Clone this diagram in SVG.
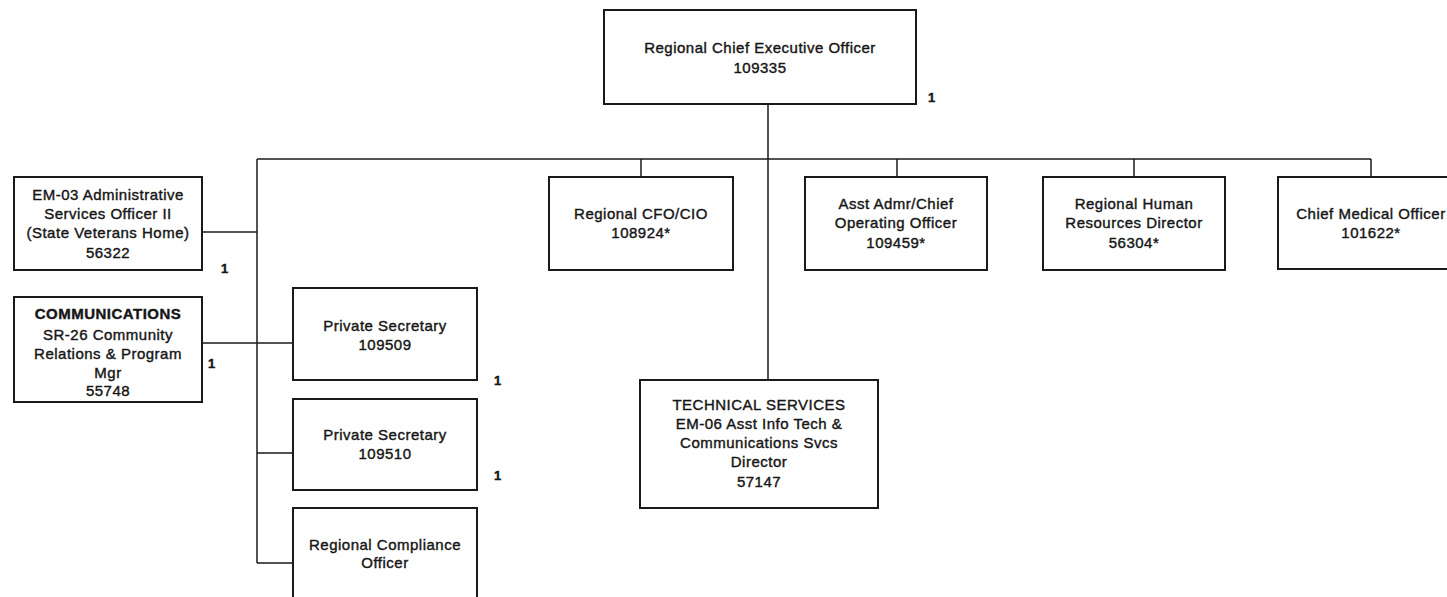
<svg xmlns="http://www.w3.org/2000/svg" width="1447" height="597" viewBox="0 0 1447 597">
<style>
.box{fill:#fff;stroke:#1a1a1a;stroke-width:2}
.con{fill:none;stroke:#1a1a1a;stroke-width:1.5}
text{font-family:"Liberation Sans",Arial,sans-serif;font-size:15px;letter-spacing:0.5px;fill:#161616;text-anchor:middle;stroke:#161616;stroke-width:0.4}
.b{font-weight:bold}
.n{font-size:13px;font-weight:bold;text-anchor:start}
</style>
<rect width="1447" height="597" fill="#fff"/>
<g id="connectors">
<path class="con" d="M768 104V380"/>
<path class="con" d="M257 159H1371"/>
<path class="con" d="M257 159V563"/>
<path class="con" d="M641 159V177M897 159V177M1134 159V177M1371 159V177"/>
<path class="con" d="M202 232H257"/>
<path class="con" d="M202 343H293"/>
<path class="con" d="M257 453H293M257 563H293"/>
</g>
<g id="ceo">
<rect class="box" x="604" y="10" width="312" height="94"/>
<text x="760" y="53">Regional Chief Executive Officer</text>
<text x="760" y="73">109335</text>
</g>
<g id="cfo">
<rect class="box" x="549" y="177" width="184" height="93"/>
<text x="641" y="219">Regional CFO/CIO</text>
<text x="641" y="238">108924*</text>
</g>
<g id="coo">
<rect class="box" x="805" y="177" width="182" height="93"/>
<text x="896" y="209">Asst Admr/Chief</text>
<text x="896" y="228">Operating Officer</text>
<text x="896" y="248">109459*</text>
</g>
<g id="hr">
<rect class="box" x="1043" y="177" width="182" height="93"/>
<text x="1134" y="209">Regional Human</text>
<text x="1134" y="228">Resources Director</text>
<text x="1134" y="248">56304*</text>
</g>
<g id="cmo">
<rect class="box" x="1278" y="177" width="186" height="92"/>
<text x="1371" y="219">Chief Medical Officer</text>
<text x="1371" y="238">101622*</text>
</g>
<g id="admin">
<rect class="box" x="14" y="177" width="188" height="93"/>
<text x="108" y="200">EM-03 Administrative</text>
<text x="108" y="219">Services Officer II</text>
<text x="108" y="238">(State Veterans Home)</text>
<text x="108" y="258">56322</text>
</g>
<g id="comms">
<rect class="box" x="14" y="297" width="188" height="105"/>
<text class="b" x="108" y="319">COMMUNICATIONS</text>
<text x="108" y="340">SR-26 Community</text>
<text x="108" y="359">Relations &amp; Program</text>
<text x="108" y="378">Mgr</text>
<text x="108" y="396">55748</text>
</g>
<g id="ps1">
<rect class="box" x="293" y="288" width="184" height="92"/>
<text x="385" y="331">Private Secretary</text>
<text x="385" y="350">109509</text>
</g>
<g id="ps2">
<rect class="box" x="293" y="399" width="184" height="91"/>
<text x="385" y="440">Private Secretary</text>
<text x="385" y="459">109510</text>
</g>
<g id="compliance">
<rect class="box" x="293" y="508" width="184" height="100"/>
<text x="385" y="550">Regional Compliance</text>
<text x="385" y="568">Officer</text>
</g>
<g id="tech">
<rect class="box" x="640" y="380" width="238" height="128"/>
<text x="759" y="410">TECHNICAL SERVICES</text>
<text x="759" y="429">EM-06 Asst Info Tech &amp;</text>
<text x="759" y="448">Communications Svcs</text>
<text x="759" y="467">Director</text>
<text x="759" y="487">57147</text>
</g>
<g id="counts">
<text class="n" x="928" y="102">1</text>
<text class="n" x="221" y="273">1</text>
<text class="n" x="208" y="368">1</text>
<text class="n" x="494" y="385">1</text>
<text class="n" x="494" y="480">1</text>
</g>
</svg>
